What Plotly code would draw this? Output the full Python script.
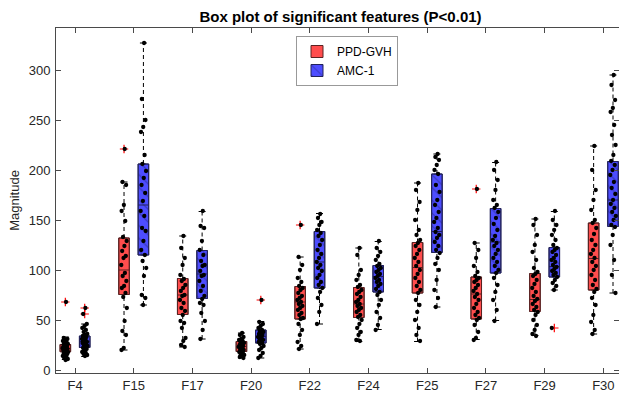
import numpy as np
import plotly.graph_objects as go

features = ["F4", "F15", "F17", "F20", "F22", "F24", "F25", "F27", "F29", "F30"]

# PPD-GVH (red) box statistics
red_q1 = [18.3, 75.5, 55.5, 18.5, 51, 52.5, 77, 51, 58.5, 80]
red_median = [21.5, 100, 75, 23.5, 68, 66, 102.5, 76, 70.5, 111.5]
red_q3 = [25.5, 132, 91.5, 28.5, 83.5, 82.5, 127.5, 93, 96.5, 147]
red_low = [10.5, 20, 23, 12, 21, 28.5, 28.5, 30.5, 34.5, 36]
red_high = [33, 188, 134, 37, 113, 122, 187, 127, 151, 224]
red_outliers = [[68], [221], [], [], [145], [], [], [181], [], []]

# AMC-1 (blue) box statistics
blue_q1 = [22.5, 115, 71.5, 27, 82, 78, 117.5, 97, 93, 143.5]
blue_median = [28.5, 165, 96, 33.5, 108, 93.5, 138.5, 128, 103.5, 170]
blue_q3 = [34, 206, 119.5, 40, 138.5, 104.5, 196, 161.5, 122.5, 208.5]
blue_low = [13.5, 65, 31, 12, 46, 40.5, 63, 49.5, 80, 77]
blue_high = [46, 327, 158.5, 48.5, 156.5, 128.5, 216, 207.5, 158.5, 295]
blue_outliers = [[56, 62], [], [], [70], [], [], [], [], [42], []]

red_points = [
    [68, 32, 31, 30, 29, 28, 27, 26, 25, 25, 24, 23, 22, 22, 21, 21, 20, 20, 19, 19, 18, 18, 17, 16, 15, 14, 13, 12, 11, 10],
    [221, 188, 185, 165, 159, 149, 133, 129, 124, 119, 114, 112, 105, 97, 94, 89, 84, 82, 77, 73, 62, 49, 39, 35, 22, 20],
    [134, 122, 112, 105, 95, 91, 89, 85, 82, 79, 75, 74, 70, 67, 62, 59, 55, 49, 47, 42, 32, 29, 25, 23],
    [37, 35, 33, 31, 30, 29, 28, 27, 26, 25, 24, 24, 23, 22, 21, 20, 19, 18, 17, 16, 15, 14, 13, 12],
    [145, 113, 105, 100, 92, 88, 84, 82, 80, 77, 74, 72, 70, 68, 66, 64, 62, 60, 57, 55, 52, 51, 46, 40, 35, 28, 24, 21],
    [122, 115, 100, 95, 90, 85, 83, 80, 78, 76, 73, 70, 68, 66, 64, 62, 60, 58, 55, 53, 50, 46, 42, 38, 35, 30, 29],
    [187, 180, 168, 160, 150, 140, 135, 130, 127, 124, 120, 116, 112, 108, 104, 100, 96, 92, 88, 84, 80, 77, 70, 65, 58, 50, 42, 35, 29],
    [181, 127, 120, 112, 104, 98, 94, 92, 90, 88, 85, 82, 79, 76, 73, 70, 66, 62, 58, 55, 52, 50, 45, 38, 32, 30],
    [151, 145, 135, 125, 118, 110, 102, 98, 96, 94, 90, 86, 82, 78, 74, 71, 69, 66, 63, 60, 58, 55, 50, 45, 40, 36, 34],
    [224, 200, 180, 170, 160, 150, 147, 142, 136, 130, 125, 120, 116, 112, 108, 104, 100, 95, 90, 85, 81, 78, 72, 65, 55, 48, 40, 36],
]
blue_points = [
    [62, 56, 46, 44, 42, 40, 38, 36, 35, 34, 33, 32, 31, 30, 29, 28, 28, 27, 26, 25, 24, 23, 22, 21, 20, 18, 17, 16, 15, 14],
    [327, 271, 250, 243, 238, 215, 206, 199, 192, 185, 177, 169, 159, 154, 142, 139, 129, 120, 115, 109, 102, 94, 75, 72, 65],
    [159, 144, 142, 129, 120, 115, 109, 105, 104, 99, 95, 94, 89, 84, 79, 74, 71, 67, 65, 57, 49, 40, 31],
    [70, 48, 46, 44, 42, 40, 39, 38, 37, 36, 35, 34, 33, 32, 31, 30, 29, 28, 27, 26, 24, 22, 20, 17, 14, 12],
    [156, 152, 148, 145, 140, 137, 134, 130, 125, 120, 116, 112, 108, 105, 102, 99, 95, 92, 88, 85, 82, 78, 72, 65, 58, 46],
    [129, 122, 118, 114, 110, 106, 104, 102, 100, 98, 96, 94, 92, 90, 88, 86, 84, 81, 78, 75, 70, 65, 58, 52, 45, 40],
    [216, 213, 210, 205, 200, 196, 185, 178, 170, 165, 158, 152, 148, 142, 138, 135, 132, 128, 124, 120, 117, 112, 106, 100, 90, 80, 72, 63],
    [208, 200, 190, 180, 170, 165, 162, 158, 152, 146, 140, 134, 130, 127, 124, 120, 116, 112, 108, 104, 100, 97, 92, 85, 78, 70, 60, 49],
    [159, 150, 145, 140, 135, 130, 125, 122, 120, 118, 115, 112, 110, 108, 105, 103, 101, 99, 97, 95, 93, 90, 87, 84, 80, 42],
    [295, 285, 270, 262, 258, 245, 235, 225, 215, 209, 205, 200, 195, 188, 182, 176, 170, 166, 162, 158, 154, 150, 145, 143, 135, 125, 110, 95, 77],
]

y_ticks = [0, 50, 100, 150, 200, 250, 300]

FONT = "Liberation Sans, Arial, sans-serif"
AX = "#4a4a4a"
BW = 0.18
OFF = 0.165

idx = np.arange(1, len(features) + 1)
red_x = idx - OFF
blue_x = idx + OFF

fig = go.Figure()

groups = [
    ("PPD-GVH", red_x, red_q1, red_median, red_q3, red_low, red_high, red_outliers, red_points,
     "rgb(255,77,77)", "#5a2222", None),
    ("AMC-1", blue_x, blue_q1, blue_median, blue_q3, blue_low, blue_high, blue_outliers, blue_points,
     "rgb(77,77,255)", "#22225a",
     dict(shape="\\", fillmode="overlay", fgcolor="rgba(25,25,90,0.75)", size=9, solidity=0.14)),
]

# box bodies (fills, hatch for AMC-1) drawn as bars from q1 to q3
for name, xs, q1, med, q3, lo, hi, outl, pts, col, edge, patt in groups:
    q1a = np.array(q1, float)
    q3a = np.array(q3, float)
    marker = dict(color=col, line=dict(color=edge, width=1))
    if patt:
        marker["pattern"] = patt
    fig.add_trace(go.Bar(x=xs, base=q1a, y=q3a - q1a, width=BW, marker=marker, name=name,
                         showlegend=True, hoverinfo="skip"))

# box outlines and medians
for name, xs, q1, med, q3, lo, hi, outl, pts, col, edge, patt in groups:
    fig.add_trace(go.Box(x=xs, q1=q1, median=med, q3=q3, lowerfence=q1, upperfence=q3,
                         orientation="v", width=BW, fillcolor="rgba(0,0,0,0)",
                         line=dict(color=edge, width=1), boxpoints=False,
                         showlegend=False, hoverinfo="skip"))

for name, xs, q1, med, q3, lo, hi, outl, pts, col, edge, patt in groups:
    # dashed whiskers
    wx, wy = [], []
    for i in range(len(xs)):
        wx += [xs[i], xs[i], None, xs[i], xs[i], None]
        wy += [lo[i], q1[i], None, q3[i], hi[i], None]
    fig.add_trace(go.Scatter(x=wx, y=wy, mode="lines", line=dict(color="black", width=1, dash="4px,3px"),
                             showlegend=False, hoverinfo="skip"))
    # whisker caps
    cx = list(xs) + list(xs)
    cy = list(lo) + list(hi)
    fig.add_trace(go.Scatter(x=cx, y=cy, mode="markers",
                             marker=dict(symbol="line-ew", size=5, line=dict(color="black", width=1)),
                             showlegend=False, hoverinfo="skip"))
    # outliers
    ox, oy = [], []
    for i in range(len(xs)):
        for v in outl[i]:
            ox.append(xs[i])
            oy.append(v)
    fig.add_trace(go.Scatter(x=ox, y=oy, mode="markers",
                             marker=dict(symbol="cross-thin", size=6, line=dict(color="red", width=1.2)),
                             showlegend=False, hoverinfo="skip"))

# individual observations with deterministic jitter
for name, xs, q1, med, q3, lo, hi, outl, pts, col, edge, patt in groups:
    px, py = [], []
    for i in range(len(xs)):
        for k, v in enumerate(pts[i]):
            off = (((k + 1) * 0.6180339887) % 1.0 - 0.5) * 0.1
            px.append(xs[i] + off)
            py.append(v)
    fig.add_trace(go.Scatter(x=px, y=py, mode="markers",
                             marker=dict(color="black", size=4.3, line=dict(width=0)),
                             showlegend=False, hoverinfo="skip"))

# helper (invisible) trace to activate the right-side tick axis
fig.add_trace(go.Scatter(x=list(idx), y=red_median, mode="none", yaxis="y2",
                         showlegend=False, hoverinfo="skip"))

fig.update_layout(
    width=619, height=393,
    margin=dict(l=56, r=0, t=28, b=20),
    paper_bgcolor="white", plot_bgcolor="white",
    font=dict(family=FONT, size=13, color="#262626"),
    barmode="overlay",
    hovermode=False,
    title=dict(text="<b>Box plot of significant features (P&lt;0.01)</b>",
               x=(340.5 - 56) / 563, xref="paper", xanchor="center",
               y=1 - 16.5 / 393, yref="container", yanchor="middle",
               font=dict(family=FONT, size=15, color="black")),
    xaxis=dict(range=[0.676, 10.267], tickmode="array", tickvals=list(idx), ticktext=features,
               ticks="inside", ticklen=5, tickcolor=AX, showline=True, linecolor=AX, linewidth=1,
               mirror="ticks", showgrid=False, zeroline=False,
               tickfont=dict(size=13, color="#262626")),
    yaxis=dict(range=[-3, 342], tickmode="array", tickvals=y_ticks,
               ticks="inside", ticklen=5, tickcolor=AX, showline=True, linecolor=AX, linewidth=1,
               mirror=False, showgrid=False, zeroline=False, ticklabelstandoff=2,
               tickfont=dict(size=13, color="#262626"),
               title=dict(text="Magnitude", font=dict(size=13, color="#262626"), standoff=6)),
    yaxis2=dict(range=[-3, 342], overlaying="y", side="right", tickmode="array", tickvals=y_ticks,
                ticks="inside", ticklen=5, tickcolor=AX, showline=False, showgrid=False,
                zeroline=False, showticklabels=False),
    legend=dict(x=(296 - 56) / 563, y=(373 - 36) / 345, xanchor="left", yanchor="top",
                bgcolor="white", bordercolor="#999999", borderwidth=1,
                font=dict(family=FONT, size=12, color="black"),
                tracegroupgap=0, itemwidth=30),
)

fig.write_html("out.html", config={"displayModeBar": False},
               post_script="document.body.style.margin='0';document.body.style.padding='0';")
